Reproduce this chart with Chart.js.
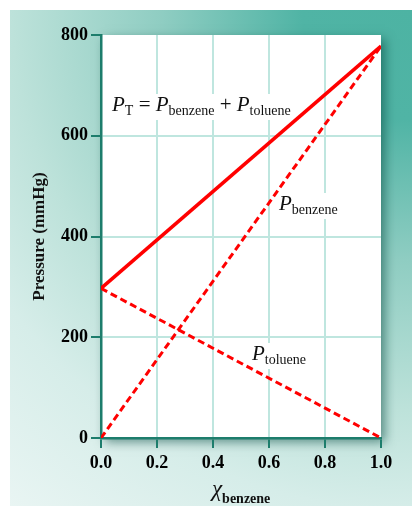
<!DOCTYPE html>
<html>
<head>
<meta charset="utf-8">
<script src="https://cdn.jsdelivr.net/npm/chart.js@4"></script>
<style>
  html, body { margin: 0; padding: 0; background: #ffffff; width: 412px; height: 506px; overflow: hidden; }
  #panel { position: absolute; left: 10px; top: 10px; width: 402px; height: 496px;
    background: radial-gradient(circle at 100% 0%, #4db3a3 0px, #50b4a5 110px, #8fcdc2 250px, #bde2da 400px, #d6ede9 500px, #e9f5f3 640px); }
  #c { position: absolute; left: 0; top: 0; }
</style>
</head>
<body>
<div id="panel"></div>
<canvas id="c" width="412" height="506"></canvas>
<script>
// ---- data ----
const moleFraction = [0, 1];          // χ benzene
const pBenzene = [0, 778];            // mmHg
const pToluene = [297, 0];            // mmHg
const pTotal = [297, 778];            // mmHg
const xTicks = [0, 0.2, 0.4, 0.6, 0.8, 1.0];
const yTicks = [0, 200, 400, 600, 800];

const toPts = (ys) => moleFraction.map((x, i) => ({ x: x, y: ys[i] }));

const AXIS = '#1d7d6c';
const GRID = '#bfe6df';
const RED = '#ff0000';
const SERIF = '"Liberation Serif", "DejaVu Serif", serif';

function drawRuns(ctx, x, base, runs) {
  ctx.textAlign = 'left';
  ctx.textBaseline = 'alphabetic';
  for (const r of runs) {
    ctx.font = r.font;
    ctx.fillText(r.t, x, base + (r.dy || 0));
    x += ctx.measureText(r.t).width;
  }
  return x;
}
function runsWidth(ctx, runs) {
  let w = 0;
  for (const r of runs) { ctx.font = r.font; w += ctx.measureText(r.t).width; }
  return w;
}
const P = { t: 'P', font: 'italic 21px ' + SERIF };
const sub = (t) => ({ t: t, font: '14px ' + SERIF, dy: 4 });
const op = (t) => ({ t: t, font: '21px ' + SERIF });

const labels = [
  { x: 112, y: 111, runs: [P, sub('T'), op(' = '), P, sub('benzene'), op(' + '), P, sub('toluene')] },
  { x: 279, y: 210, runs: [P, sub('benzene')] },
  { x: 252, y: 360, runs: [P, sub('toluene')] }
];

const decor = {
  id: 'decor',
  beforeDraw(chart) {
    const { ctx, chartArea: a } = chart;
    ctx.save();
    ctx.shadowColor = 'rgba(0, 70, 60, 0.55)';
    ctx.shadowBlur = 10;
    ctx.shadowOffsetX = 4;
    ctx.shadowOffsetY = 4;
    ctx.fillStyle = '#ffffff';
    ctx.fillRect(a.left, a.top, a.right - a.left, a.bottom - a.top);
    ctx.restore();
  },
  beforeDatasetsDraw(chart) {
    const ctx = chart.ctx;
    ctx.save();
    for (const l of labels) {
      const w = runsWidth(ctx, l.runs);
      ctx.fillStyle = '#ffffff';
      ctx.fillRect(l.x - 3, l.y - 17, w + 6, 26);
      ctx.fillStyle = '#111111';
      drawRuns(ctx, l.x, l.y, l.runs);
    }
    ctx.restore();
  },
  afterDraw(chart) {
    const ctx = chart.ctx;
    const a = chart.chartArea;
    ctx.save();
    // y-axis title
    ctx.translate(40, (a.top + a.bottom) / 2);
    ctx.rotate(-Math.PI / 2);
    ctx.font = 'bold 17px ' + SERIF;
    ctx.fillStyle = '#111111';
    ctx.textAlign = 'center';
    ctx.textBaseline = 'middle';
    ctx.fillText('Pressure (mmHg)', 0, 0);
    ctx.restore();
    // x-axis title
    ctx.save();
    ctx.fillStyle = '#111111';
    const xr = [{ t: 'χ', font: 'italic 23px ' + SERIF }, { t: 'benzene', font: 'bold 14px ' + SERIF, dy: 7 }];
    drawRuns(ctx, 212, 496, xr);
    ctx.restore();
  }
};

new Chart(document.getElementById('c'), {
  type: 'line',
  data: {
    datasets: [
      { label: 'P_T', data: toPts(pTotal), borderColor: RED, borderWidth: 3.5, pointRadius: 0, fill: false },
      { label: 'P_benzene', data: toPts(pBenzene), borderColor: RED, borderWidth: 3, borderDash: [7, 4], pointRadius: 0, fill: false },
      { label: 'P_toluene', data: toPts(pToluene), borderColor: RED, borderWidth: 3, borderDash: [7, 4], pointRadius: 0, fill: false }
    ]
  },
  options: {
    responsive: false,
    animation: false,
    devicePixelRatio: 1,
    layout: { padding: { left: 0, top: 35, right: 31, bottom: 0 } },
    plugins: { legend: { display: false }, tooltip: { enabled: false } },
    scales: {
      x: {
        type: 'linear', min: 0, max: 1,
        afterFit(s) { s.height = 68; },
        afterBuildTicks(s) { s.ticks = xTicks.map(v => ({ value: v })); },
        grid: {
          color: (c) => (c.tick && c.tick.value >= 1) ? 'rgba(0,0,0,0)' : GRID,
          lineWidth: 2, drawTicks: true, tickLength: 10, tickColor: AXIS, tickWidth: 2
        },
        border: { color: AXIS, width: 2.5 },
        ticks: {
          color: '#000000', padding: 5,
          font: { family: SERIF, size: 18, weight: 'bold' },
          callback: (v) => Number(v).toFixed(1)
        }
      },
      y: {
        type: 'linear', min: 0, max: 800,
        afterFit(s) { s.width = 101; },
        afterBuildTicks(s) { s.ticks = yTicks.map(v => ({ value: v })); },
        grid: {
          color: (c) => (c.tick && c.tick.value >= 800) ? 'rgba(0,0,0,0)' : GRID,
          lineWidth: 2, drawTicks: true, tickLength: 10, tickColor: AXIS, tickWidth: 2
        },
        border: { color: AXIS, width: 2.5 },
        ticks: {
          color: '#000000', padding: 3,
          font: { family: SERIF, size: 18, weight: 'bold' }
        }
      }
    }
  },
  plugins: [decor]
});
</script>
</body>
</html>
